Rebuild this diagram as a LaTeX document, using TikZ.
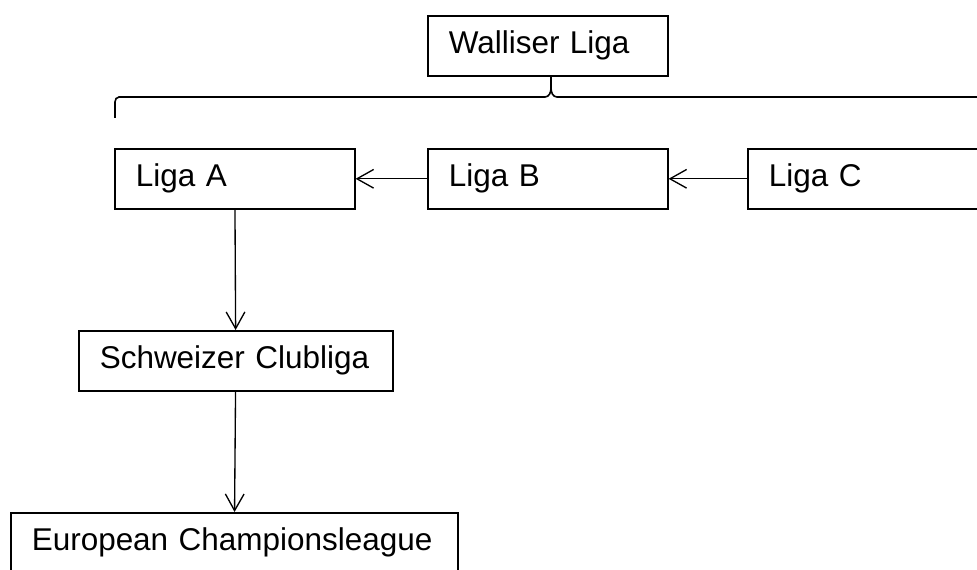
\documentclass[tikz,border=0pt]{standalone}
\usepackage{fontspec}
\setmainfont{Liberation Sans}
\usetikzlibrary{calc,positioning,arrows.meta}

\begin{document}
\begin{tikzpicture}[x=0.75pt, y=-0.75pt, arr/.style={-{Straight Barb[length=12.5pt,width=14pt]}, line width=1pt}]
\tikzstyle{lbox}=[draw, line width=1.2pt, minimum height=45pt, inner xsep=15.75pt, text width=#1, align=left, font=\fontsize{23.6}{28}\selectfont]
\useasboundingbox (0,0) rectangle (977,570);
\clip (0,0) rectangle (977,570);
\node[lbox=148.5pt, anchor=north west] (wl) at (427,15) {Walliser Liga};
\node[lbox=148.5pt, anchor=north west] (la) at (114,148) {Liga A};
\node[lbox=148.5pt, anchor=north west] (lb) at (427,148) {Liga B};
\node[lbox=148.5pt, anchor=north west] (lc) at (747,148) {Liga C};
\node[lbox=204pt, anchor=north west] (sc) at (78,330) {Schweizer Clubliga};
\node[lbox=303.75pt, anchor=north west] (ec) at (10,512) {European Championsleague};
% brace under Walliser Liga
\coordinate (tip) at (551,88);
\draw[line width=1.2pt] (115,118) -- (115,102) to[out=90,in=180] (119,97) -- ($(tip)+(-6,9)$) to[out=0,in=-90] (tip) to[out=-90,in=180] ($(tip)+(6,9)$) -- (995,97);
\draw[line width=1.2pt] (tip) -- (tip |- wl.south);
\foreach \i/\j in {lb/la, lc/lb, la/sc, sc/ec}{\draw[arr] (\i) -- (\j);}
\end{tikzpicture}
\end{document}
